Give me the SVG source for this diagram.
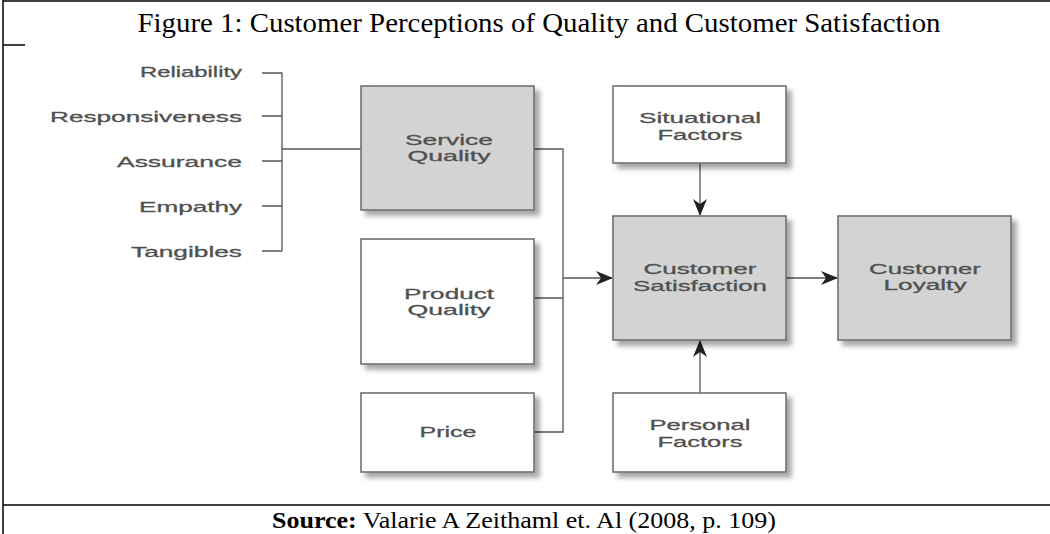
<svg xmlns="http://www.w3.org/2000/svg" width="1050" height="534" viewBox="0 0 1050 534">
<style>
.frame{stroke:#000;stroke-width:1.5;fill:none}
.title{font-family:"Liberation Serif","Times New Roman",serif;font-size:27px;fill:#000}
.src{font-family:"Liberation Serif","Times New Roman",serif;font-size:22.5px;fill:#000}
.lbl{font-family:"Liberation Sans",Arial,sans-serif;font-size:15px;fill:#505050;stroke:#505050;stroke-width:0.3}
.box{stroke:#707070;stroke-width:1.6;filter:url(#sh)}
.g{fill:#d3d3d3}
.w{fill:#ffffff}
.ln{stroke:#555;stroke-width:1.3;fill:none}
</style>
<defs>
<filter id="sh" x="-10%" y="-10%" width="130%" height="130%">
<feDropShadow dx="5" dy="5" stdDeviation="2.5" flood-color="#000" flood-opacity="0.35"/>
</filter>
<marker id="ah" markerUnits="userSpaceOnUse" markerWidth="20" markerHeight="16" viewBox="0 -8 17 16" refX="16" refY="0" orient="auto">
<path d="M0,-7 L17,0 L0,7 L5,0 z" fill="#222"/>
</marker>
</defs>
<rect width="1050" height="534" fill="#fff"/>
<g id="frame">
<line class="frame" x1="3" y1="0" x2="3" y2="534"/>
<line class="frame" x1="3" y1="1" x2="1050" y2="1"/>
<line class="frame" x1="3" y1="45" x2="25" y2="45"/>
<line class="frame" x1="3" y1="505" x2="1050" y2="505"/>
</g>
<text class="title" x="539" y="32" text-anchor="middle" textLength="803" lengthAdjust="spacingAndGlyphs">Figure 1: Customer Perceptions of Quality and Customer Satisfaction</text>
<text class="src" x="524" y="528" text-anchor="middle" textLength="504" lengthAdjust="spacingAndGlyphs"><tspan font-weight="bold">Source:</tspan> Valarie A Zeithaml et. Al (2008, p. 109)</text>

<g id="dimensions">
<text class="lbl" x="242" y="77" text-anchor="end" textLength="102" lengthAdjust="spacingAndGlyphs">Reliability</text>
<text class="lbl" x="242" y="122" text-anchor="end" textLength="192" lengthAdjust="spacingAndGlyphs">Responsiveness</text>
<text class="lbl" x="242" y="167" text-anchor="end" textLength="125" lengthAdjust="spacingAndGlyphs">Assurance</text>
<text class="lbl" x="242" y="212" text-anchor="end" textLength="103" lengthAdjust="spacingAndGlyphs">Empathy</text>
<text class="lbl" x="242" y="257" text-anchor="end" textLength="111" lengthAdjust="spacingAndGlyphs">Tangibles</text>
</g>

<g id="connectors">
<path class="ln" d="M262,73 H282 M262,116 H282 M262,161 H282 M262,206 H282 M262,251 H282 M282,72.5 V251.5 M282,149 H361"/>
<path class="ln" d="M534,149 H563 V432 H534 M534,298 H563"/>
<line class="ln" x1="563" y1="278" x2="612" y2="278" marker-end="url(#ah)"/>
<line class="ln" x1="700" y1="163" x2="700" y2="215" marker-end="url(#ah)"/>
<line class="ln" x1="700" y1="393" x2="700" y2="341" marker-end="url(#ah)"/>
<line class="ln" x1="786" y1="278" x2="837" y2="278" marker-end="url(#ah)"/>
</g>

<g id="service-quality">
<rect class="box g" x="361" y="86" width="173" height="124"/>
<text class="lbl" x="449" y="145" text-anchor="middle" textLength="88" lengthAdjust="spacingAndGlyphs">Service</text>
<text class="lbl" x="449" y="161" text-anchor="middle" textLength="83" lengthAdjust="spacingAndGlyphs">Quality</text>
</g>
<g id="product-quality">
<rect class="box w" x="361" y="239" width="173" height="125"/>
<text class="lbl" x="449" y="299" text-anchor="middle" textLength="90" lengthAdjust="spacingAndGlyphs">Product</text>
<text class="lbl" x="449" y="315" text-anchor="middle" textLength="83" lengthAdjust="spacingAndGlyphs">Quality</text>
</g>
<g id="price">
<rect class="box w" x="361" y="393" width="173" height="79"/>
<text class="lbl" x="448" y="437" text-anchor="middle" textLength="57" lengthAdjust="spacingAndGlyphs">Price</text>
</g>
<g id="situational-factors">
<rect class="box w" x="613" y="86" width="173" height="77"/>
<text class="lbl" x="700" y="123" text-anchor="middle" textLength="122" lengthAdjust="spacingAndGlyphs">Situational</text>
<text class="lbl" x="700" y="140" text-anchor="middle" textLength="85" lengthAdjust="spacingAndGlyphs">Factors</text>
</g>
<g id="customer-satisfaction">
<rect class="box g" x="613" y="216" width="173" height="124"/>
<text class="lbl" x="700" y="274" text-anchor="middle" textLength="113" lengthAdjust="spacingAndGlyphs">Customer</text>
<text class="lbl" x="700" y="291" text-anchor="middle" textLength="134" lengthAdjust="spacingAndGlyphs">Satisfaction</text>
</g>
<g id="personal-factors">
<rect class="box w" x="613" y="393" width="173" height="79"/>
<text class="lbl" x="700" y="430" text-anchor="middle" textLength="101" lengthAdjust="spacingAndGlyphs">Personal</text>
<text class="lbl" x="700" y="447" text-anchor="middle" textLength="85" lengthAdjust="spacingAndGlyphs">Factors</text>
</g>
<g id="customer-loyalty">
<rect class="box g" x="838" y="216" width="173" height="124"/>
<text class="lbl" x="925" y="274" text-anchor="middle" textLength="112" lengthAdjust="spacingAndGlyphs">Customer</text>
<text class="lbl" x="925" y="290" text-anchor="middle" textLength="83" lengthAdjust="spacingAndGlyphs">Loyalty</text>
</g>
</svg>
